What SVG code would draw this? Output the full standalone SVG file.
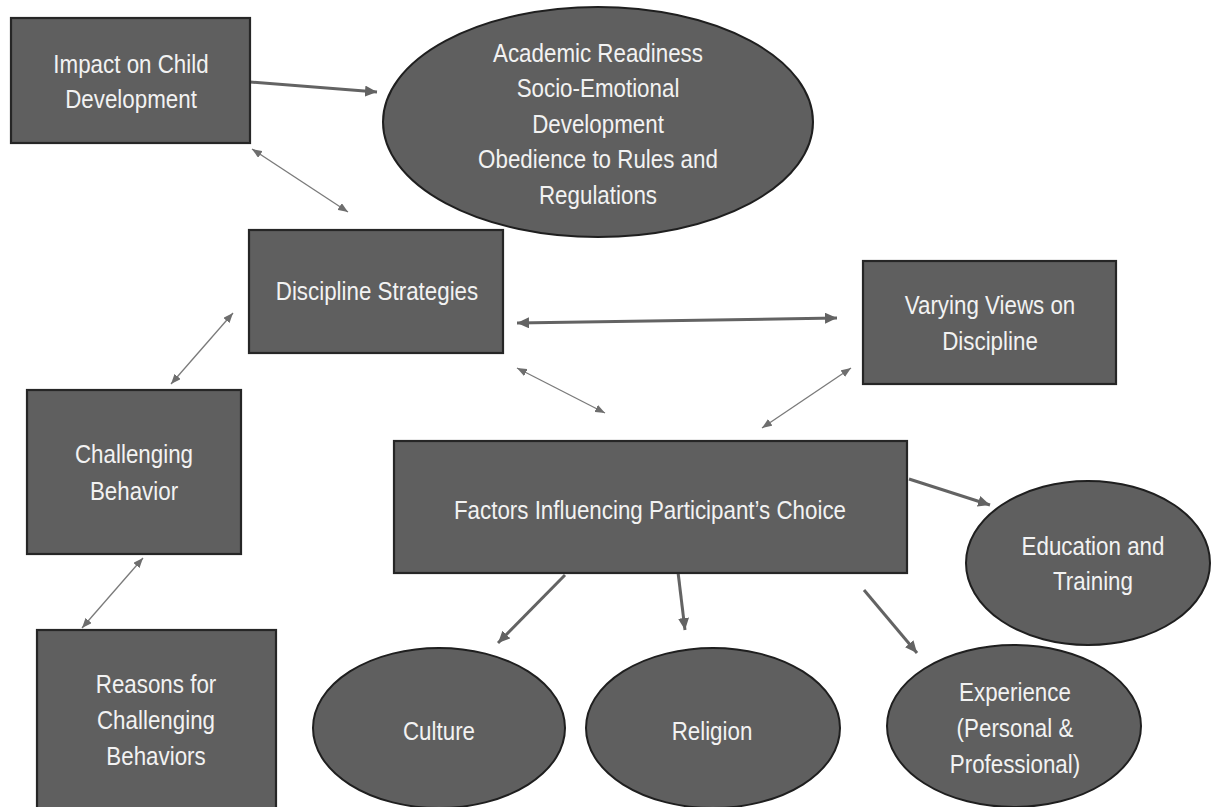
<svg xmlns="http://www.w3.org/2000/svg" width="1214" height="807" viewBox="0 0 1214 807">
  <style>
    .box { fill: #5f5f5f; stroke: #262626; stroke-width: 2.2; }
    .oval { fill: #5f5f5f; stroke: #1f1f1f; stroke-width: 2; }
    .lbl { font-family: "Liberation Sans", Arial, sans-serif; font-size: 26px; fill: #f2f2f2; text-anchor: middle; }
    .thick { stroke: #636363; stroke-width: 3; fill: none; }
    .thin { stroke: #7a7a7a; stroke-width: 1.3; fill: none; }
  </style>
  <defs>
    <marker id="headThick" markerUnits="userSpaceOnUse" markerWidth="12" markerHeight="11" viewBox="0 0 12 11" refX="12" refY="5.5" orient="auto-start-reverse">
      <path d="M0,0 L12,5.5 L0,11 z" fill="#636363"/>
    </marker>
    <marker id="headThin" markerUnits="userSpaceOnUse" markerWidth="10" markerHeight="8" viewBox="0 0 10 8" refX="10" refY="4" orient="auto-start-reverse">
      <path d="M0,0 L10,4 L0,8 z" fill="#6e6e6e"/>
    </marker>
  </defs>
  <rect width="1214" height="807" fill="#ffffff"/>

  <!-- connectors -->
  <g id="connectors">
    <line class="thick" x1="250" y1="82" x2="377" y2="92" marker-end="url(#headThick)"/>
    <line class="thick" x1="517" y1="323" x2="837" y2="318" marker-start="url(#headThick)" marker-end="url(#headThick)"/>
    <line class="thick" x1="909" y1="479" x2="990" y2="505" marker-end="url(#headThick)"/>
    <line class="thick" x1="565" y1="575" x2="498" y2="643" marker-end="url(#headThick)"/>
    <line class="thick" x1="678" y1="572" x2="685" y2="630" marker-end="url(#headThick)"/>
    <line class="thick" x1="864" y1="590" x2="917" y2="653" marker-end="url(#headThick)"/>
    <line class="thin" x1="252" y1="149" x2="348" y2="212" marker-start="url(#headThin)" marker-end="url(#headThin)"/>
    <line class="thin" x1="233" y1="313" x2="171" y2="384" marker-start="url(#headThin)" marker-end="url(#headThin)"/>
    <line class="thin" x1="143" y1="558" x2="82" y2="628" marker-start="url(#headThin)" marker-end="url(#headThin)"/>
    <line class="thin" x1="517" y1="368" x2="605" y2="413" marker-start="url(#headThin)" marker-end="url(#headThin)"/>
    <line class="thin" x1="851" y1="368" x2="762" y2="428" marker-start="url(#headThin)" marker-end="url(#headThin)"/>
  </g>

  <!-- labels use a horizontally condensed sans: each label block is centred on x=0 and narrowed -->
  <g id="impact">
    <rect class="box" x="11" y="18" width="239" height="125"/>
    <g transform="translate(131 0) scale(0.86 1)">
      <text class="lbl" x="0" y="73">Impact on Child</text>
      <text class="lbl" x="0" y="108">Development</text>
    </g>
  </g>

  <g id="outcomes">
    <ellipse class="oval" cx="598" cy="122" rx="215" ry="115"/>
    <g transform="translate(598 0) scale(0.86 1)">
      <text class="lbl" x="0" y="62">Academic Readiness</text>
      <text class="lbl" x="0" y="97.5">Socio-Emotional</text>
      <text class="lbl" x="0" y="133">Development</text>
      <text class="lbl" x="0" y="168.5">Obedience to Rules and</text>
      <text class="lbl" x="0" y="204">Regulations</text>
    </g>
  </g>

  <g id="discipline">
    <rect class="box" x="249" y="230" width="254" height="123"/>
    <g transform="translate(377 0) scale(0.86 1)">
      <text class="lbl" x="0" y="300">Discipline Strategies</text>
    </g>
  </g>

  <g id="views">
    <rect class="box" x="863" y="261" width="253" height="123"/>
    <g transform="translate(990 0) scale(0.86 1)">
      <text class="lbl" x="0" y="314">Varying Views on</text>
      <text class="lbl" x="0" y="350">Discipline</text>
    </g>
  </g>

  <g id="challenging">
    <rect class="box" x="27" y="390" width="214" height="164"/>
    <g transform="translate(134 0) scale(0.86 1)">
      <text class="lbl" x="0" y="463">Challenging</text>
      <text class="lbl" x="0" y="500">Behavior</text>
    </g>
  </g>

  <g id="factors">
    <rect class="box" x="394" y="441" width="513" height="132"/>
    <g transform="translate(650 0) scale(0.86 1)">
      <text class="lbl" x="0" y="519">Factors Influencing Participant’s Choice</text>
    </g>
  </g>

  <g id="reasons">
    <rect class="box" x="37" y="630" width="239" height="185"/>
    <g transform="translate(156 0) scale(0.86 1)">
      <text class="lbl" x="0" y="693">Reasons for</text>
      <text class="lbl" x="0" y="729">Challenging</text>
      <text class="lbl" x="0" y="765">Behaviors</text>
    </g>
  </g>

  <g id="education">
    <ellipse class="oval" cx="1088" cy="563" rx="122" ry="82"/>
    <g transform="translate(1093 0) scale(0.86 1)">
      <text class="lbl" x="0" y="555">Education and</text>
      <text class="lbl" x="0" y="590">Training</text>
    </g>
  </g>

  <g id="culture">
    <ellipse class="oval" cx="439" cy="728" rx="126" ry="80"/>
    <g transform="translate(439 0) scale(0.86 1)">
      <text class="lbl" x="0" y="740">Culture</text>
    </g>
  </g>

  <g id="religion">
    <ellipse class="oval" cx="713" cy="728" rx="127" ry="80"/>
    <g transform="translate(712 0) scale(0.86 1)">
      <text class="lbl" x="0" y="740">Religion</text>
    </g>
  </g>

  <g id="experience">
    <ellipse class="oval" cx="1014" cy="726" rx="127" ry="81"/>
    <g transform="translate(1015 0) scale(0.86 1)">
      <text class="lbl" x="0" y="701">Experience</text>
      <text class="lbl" x="0" y="737">(Personal &amp;</text>
      <text class="lbl" x="0" y="773">Professional)</text>
    </g>
  </g>
</svg>
